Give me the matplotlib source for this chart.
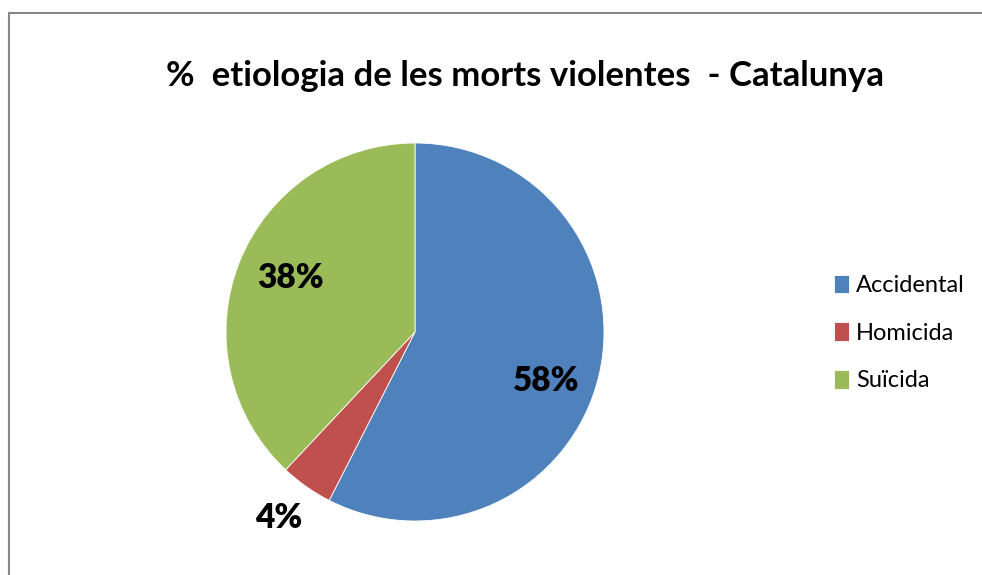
import numpy as np
import matplotlib
matplotlib.use("Agg")
import matplotlib.pyplot as plt
from matplotlib.patches import Rectangle

categories = ["Accidental", "Homicida", "Suïcida"]
values = [57.5, 4.5, 38.0]
pct_labels = ["58%", "4%", "38%"]
colors = ["#4F81BD", "#C0504D", "#9BBB59"]
title = "%  etiologia de les morts violentes  - Catalunya"

plt.rcParams['font.family'] = ['Lato', 'DejaVu Sans']

fig = plt.figure(figsize=(9.82, 5.75), dpi=100)
W, H = 982, 575

# chart border (extends past right/bottom as in reference)
fig.patches.append(Rectangle((9 / W, -0.1), 1.2, (575 - 13) / H + 0.1,
                             transform=fig.transFigure, fill=False,
                             edgecolor="#868686", linewidth=1.5))

ax = fig.add_axes([226 / W, (575 - 521) / H, 378 / W, 378 / H])
wedges, _ = ax.pie(values, colors=colors, startangle=90, counterclock=False,
                   radius=1.0, wedgeprops=dict(edgecolor="white", linewidth=0.6))
ax.set_xlim(-1, 1)
ax.set_ylim(-1, 1)

# label placement: radial distance and angle tweak per slice
dists = [0.74, 1.22, 0.72]
ang_shift = [-7.0, -1.0, -2.0]
for w, lab, d, s in zip(wedges, pct_labels, dists, ang_shift):
    a = np.deg2rad((w.theta1 + w.theta2) / 2 + s)
    ax.text(d * np.cos(a), d * np.sin(a), lab, ha="center", va="center",
            fontsize=24, fontweight="heavy", color="black", clip_on=False)

fig.text(525 / W, 1 - 76 / H, title, ha="center", va="center",
         fontsize=25, fontweight="bold")

leg = fig.legend(wedges, categories, loc="center left",
                 bbox_to_anchor=(825 / W, 1 - 333 / H), frameon=False,
                 fontsize=17, handlelength=0.62, handleheight=0.85,
                 handletextpad=0.3, labelspacing=1.1, borderaxespad=0)

fig.savefig("out.png", dpi=100)
